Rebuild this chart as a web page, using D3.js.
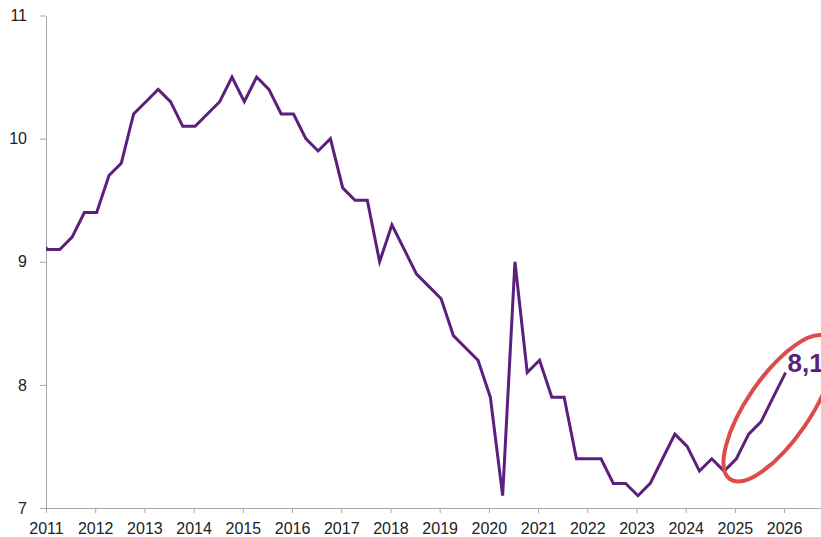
<!DOCTYPE html>
<html>
<head>
<meta charset="utf-8">
<script src="https://cdn.jsdelivr.net/npm/d3@7"></script>
<style>
  body { margin: 0; background: #fff; }
  svg { display: block; font-family: "Liberation Sans", Arial, sans-serif; }
  .axis path, .axis line { stroke: #a6a6a6; }
  .axis text { fill: #222; font-size: 16px; font-family: "Liberation Sans", Arial, sans-serif; }
</style>
</head>
<body>
<script>
// quarterly series, 2010 Q4 (clipped at the axis) to 2026 Q1
var quarters = ['2010Q4',
  '2011Q1','2011Q2','2011Q3','2011Q4','2012Q1','2012Q2','2012Q3','2012Q4',
  '2013Q1','2013Q2','2013Q3','2013Q4','2014Q1','2014Q2','2014Q3','2014Q4',
  '2015Q1','2015Q2','2015Q3','2015Q4','2016Q1','2016Q2','2016Q3','2016Q4',
  '2017Q1','2017Q2','2017Q3','2017Q4','2018Q1','2018Q2','2018Q3','2018Q4',
  '2019Q1','2019Q2','2019Q3','2019Q4','2020Q1','2020Q2','2020Q3','2020Q4',
  '2021Q1','2021Q2','2021Q3','2021Q4','2022Q1','2022Q2','2022Q3','2022Q4',
  '2023Q1','2023Q2','2023Q3','2023Q4','2024Q1','2024Q2','2024Q3','2024Q4',
  '2025Q1','2025Q2','2025Q3','2025Q4','2026Q1'];
var values = [9.2,
  9.1, 9.1, 9.2, 9.4, 9.4, 9.7, 9.8, 10.2,
  10.3, 10.4, 10.3, 10.1, 10.1, 10.2, 10.3, 10.5,
  10.3, 10.5, 10.4, 10.2, 10.2, 10.0, 9.9, 10.0,
  9.6, 9.5, 9.5, 9.0, 9.3, 9.1, 8.9, 8.8,
  8.7, 8.4, 8.3, 8.2, 7.9, 7.1, 9.0, 8.1,
  8.2, 7.9, 7.9, 7.4, 7.4, 7.4, 7.2, 7.2,
  7.1, 7.2, 7.4, 7.6, 7.5, 7.3, 7.4, 7.3,
  7.4, 7.6, 7.7, 7.9, 8.1];
var yearTicks = d3.range(2011, 2027);
var valueTicks = [7, 8, 9, 10, 11];

// annotation ellipse around the last year (centre in data units)
var ringCenter = { year: 2025.89, value: 7.81 };

const w = 821, h = 537;
const padLeft = 46, padTop = 15.5, axisY = 508;

function toYear(q) {
  return +q.slice(0, 4) + (+q.slice(5) - 1) / 4 + 0.03;
}

var data = quarters.map(function(q, i) {
  return { year: toYear(q), value: values[i] };
});

var xScale = d3.scaleLinear().domain([2011, 2026.75]).range([padLeft, w]);
var yScale = d3.scaleLinear().domain([7, 11]).range([axisY, padTop]);

var svg = d3.select('body').append('svg')
  .attr('width', w)
  .attr('height', h);

svg.append('defs').append('clipPath')
  .attr('id', 'plot')
  .append('rect')
  .attr('x', padLeft).attr('y', 0)
  .attr('width', w - padLeft).attr('height', h);

svg.append('g')
  .attr('class', 'axis')
  .attr('transform', 'translate(' + padLeft + ',0)')
  .call(d3.axisLeft(yScale).tickValues(valueTicks).tickFormat(d3.format('d'))
    .tickSize(6).tickPadding(13).tickSizeOuter(0));

svg.append('g')
  .attr('class', 'axis')
  .attr('transform', 'translate(0,' + axisY + ')')
  .call(d3.axisBottom(xScale).tickValues(yearTicks).tickFormat(d3.format('d'))
    .tickSize(5).tickPadding(10).tickSizeOuter(0));

svg.selectAll('.axis').attr('font-family', null).attr('font-size', null);

var line = d3.line()
  .x(d => xScale(d.year))
  .y(d => yScale(d.value));

svg.append('path')
  .datum(data)
  .attr('clip-path', 'url(#plot)')
  .attr('d', line)
  .attr('fill', 'none')
  .attr('stroke', '#5b1f7e')
  .attr('stroke-width', 3)
  .attr('stroke-linejoin', 'miter');

var last = data[data.length - 1];
svg.append('text')
  .attr('x', xScale(last.year) + 2)
  .attr('y', yScale(last.value) - 1)
  .attr('fill', '#5b1f7e')
  .style('font-size', '26px')
  .style('font-weight', 'bold')
  .text(String(last.value).replace('.', ','));

svg.append('ellipse')
  .attr('transform', 'translate(' + xScale(ringCenter.year) + ',' + yScale(ringCenter.value) + ') rotate(-55.6)')
  .attr('rx', 86)
  .attr('ry', 31.5)
  .attr('fill', 'none')
  .attr('stroke', '#de4b4b')
  .attr('stroke-width', 4);
</script>
</body>
</html>
